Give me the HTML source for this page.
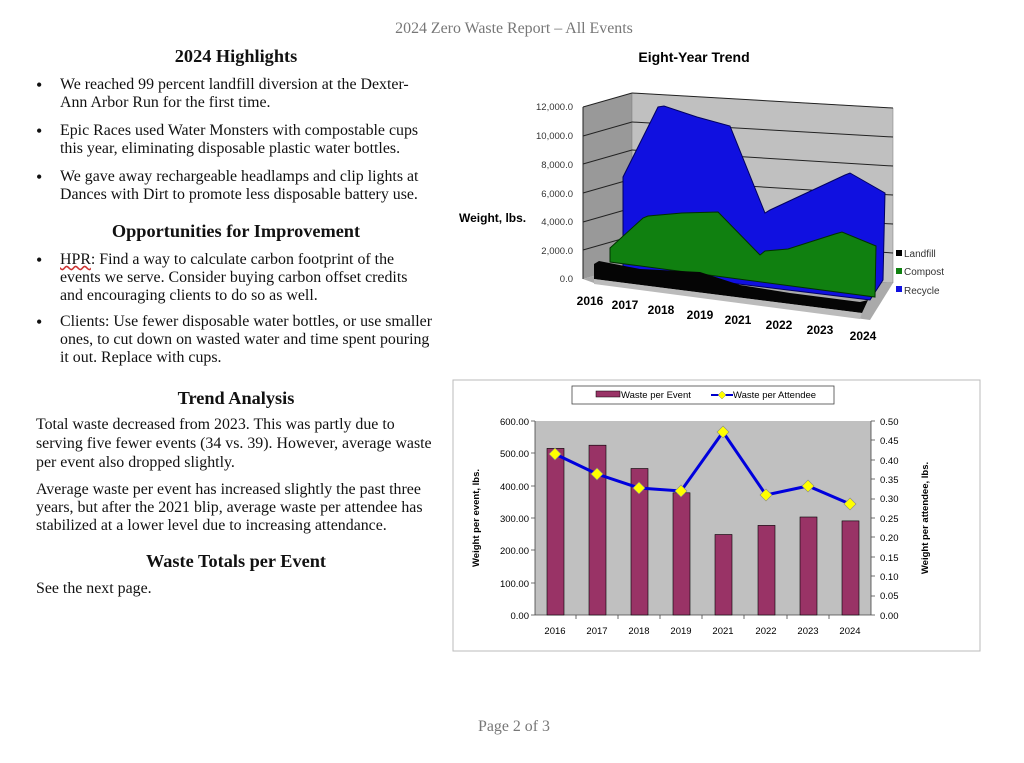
<!DOCTYPE html>
<html><head><meta charset="utf-8"><style>
body{margin:0;width:1024px;height:763px;background:#fff;position:relative;overflow:hidden;font-family:"Liberation Serif",serif;color:#111}
.l{position:absolute;white-space:nowrap;font-size:15.9px;line-height:18px}
.h{position:absolute;font-weight:bold;font-size:18.3px;width:400px;text-align:center;left:36px;line-height:20px}
.b{position:absolute;left:36px;font-size:18px;line-height:18px}
</style></head><body>
<div class="l" style="left:0;width:1028px;text-align:center;top:20px;color:#777">2024 Zero Waste Report – All Events</div>
<div class="h" style="top:46px">2024 Highlights</div>
<div class="b" style="top:76px">•</div><div class="l" style="left:60px;top:76px">We reached 99 percent landfill diversion at the Dexter-</div>
<div class="l" style="left:60px;top:94px">Ann Arbor Run for the first time.</div>
<div class="b" style="top:122px">•</div><div class="l" style="left:60px;top:122px">Epic Races used Water Monsters with compostable cups</div>
<div class="l" style="left:60px;top:140px">this year, eliminating disposable plastic water bottles.</div>
<div class="b" style="top:168px">•</div><div class="l" style="left:60px;top:168px">We gave away rechargeable headlamps and clip lights at</div>
<div class="l" style="left:60px;top:186px">Dances with Dirt to promote less disposable battery use.</div>
<div class="h" style="top:221px">Opportunities for Improvement</div>
<div class="b" style="top:251px">•</div><div class="l" style="left:60px;top:251px"><u style="text-decoration-style:wavy;text-decoration-color:#c33">HPR</u>: Find a way to calculate carbon footprint of the</div>
<div class="l" style="left:60px;top:269px">events we serve. Consider buying carbon offset credits</div>
<div class="l" style="left:60px;top:287px">and encouraging clients to do so as well.</div>
<div class="b" style="top:313px">•</div><div class="l" style="left:60px;top:313px">Clients: Use fewer disposable water bottles, or use smaller</div>
<div class="l" style="left:60px;top:331px">ones, to cut down on wasted water and time spent pouring</div>
<div class="l" style="left:60px;top:349px">it out. Replace with cups.</div>
<div class="h" style="top:388px">Trend Analysis</div>
<div class="l" style="left:36px;top:416px">Total waste decreased from 2023. This was partly due to</div>
<div class="l" style="left:36px;top:435px">serving five fewer events (34 vs. 39). However, average waste</div>
<div class="l" style="left:36px;top:454px">per event also dropped slightly.</div>
<div class="l" style="left:36px;top:481px">Average waste per event has increased slightly the past three</div>
<div class="l" style="left:36px;top:499px">years, but after the 2021 blip, average waste per attendee has</div>
<div class="l" style="left:36px;top:517px">stabilized at a lower level due to increasing attendance.</div>
<div class="h" style="top:551px">Waste Totals per Event</div>
<div class="l" style="left:36px;top:580px">See the next page.</div>
<div class="l" style="left:0;width:1028px;text-align:center;top:718px;color:#777">Page 2 of 3</div>

<svg width="1024" height="763" style="position:absolute;left:0;top:0" font-family="Liberation Sans, sans-serif">
<text x="694" y="62" font-size="14" font-weight="bold" text-anchor="middle">Eight-Year Trend</text>
<polygon points="583,107 632,93 632,265 583,279" fill="#999"/>
<polygon points="632,93 893,108 893,283 632,265" fill="#c0c0c0" stroke="#777" stroke-width="0.5"/>
<polygon points="583,279 632,265 893,283 870,320 594,283" fill="#aaa"/>
<g stroke="#222" stroke-width="1">
<line x1="583" y1="107" x2="632" y2="93"/><line x1="632" y1="93" x2="893" y2="108"/>
<line x1="583" y1="136" x2="632" y2="122"/><line x1="632" y1="122" x2="893" y2="137"/>
<line x1="583" y1="164" x2="632" y2="150"/><line x1="632" y1="150" x2="893" y2="166"/>
<line x1="583" y1="193" x2="632" y2="179"/><line x1="632" y1="179" x2="893" y2="195"/>
<line x1="583" y1="222" x2="632" y2="208"/><line x1="632" y1="208" x2="893" y2="224"/>
<line x1="583" y1="250" x2="632" y2="236"/><line x1="632" y1="236" x2="893" y2="253"/>
<line x1="583" y1="107" x2="583" y2="279"/>
</g>
<polygon points="623,177 658,107 664,106 697,117 730,126 765,213 770,210 845,175 850,173 885,193 883,280 870,300 623,270" fill="#1010e0" stroke="#000060" stroke-width="1"/>
<polygon points="610,248 643,218 648,216 682,213 718,212 720,214 760,255 765,251 788,249 835,234 842,232 876,246 875,297 610,262" fill="#108010" stroke="#003000" stroke-width="1"/>
<polygon points="594,264 599,261 640,269 700,272 740,285 790,293 860,302 868,300 862,313 594,279" fill="#050505"/>
<polygon points="594,279 862,313 860,319 594,284" fill="#bbb"/>
<g font-size="9.5" fill="#333" text-anchor="end">
<text x="573" y="110">12,000.0</text><text x="573" y="139">10,000.0</text><text x="573" y="168">8,000.0</text>
<text x="573" y="197">6,000.0</text><text x="573" y="225">4,000.0</text><text x="573" y="254">2,000.0</text><text x="573" y="282">0.0</text>
</g>
<text x="459" y="222" font-size="12" font-weight="bold">Weight, lbs.</text>
<g font-size="12" font-weight="bold" text-anchor="middle">
<text x="590" y="305">2016</text><text x="625" y="309">2017</text><text x="661" y="314">2018</text><text x="700" y="319">2019</text>
<text x="738" y="324">2021</text><text x="779" y="329">2022</text><text x="820" y="334">2023</text><text x="863" y="340">2024</text>
</g>
<g font-size="10" fill="#333">
<rect x="896" y="250" width="6" height="6" fill="#000"/><text x="904" y="257">Landfill</text>
<rect x="896" y="268" width="6" height="6" fill="#108010"/><text x="904" y="275">Compost</text>
<rect x="896" y="286" width="6" height="6" fill="#1010e0"/><text x="904" y="294">Recycle</text>
</g>
<rect x="453" y="380" width="527" height="271" fill="#fff" stroke="#bbb"/>
<rect x="572" y="386" width="262" height="18" fill="#fff" stroke="#444" stroke-width="0.8"/>
<rect x="596" y="391" width="24" height="6" fill="#993366" stroke="#000" stroke-width="0.5"/>
<text x="621" y="398" font-size="9.5">Waste per Event</text>
<line x1="711" y1="395" x2="733" y2="395" stroke="#00c" stroke-width="2"/>
<polygon points="722,391 726,395 722,399 718,395" fill="#ff0" stroke="#888" stroke-width="0.5"/>
<text x="733" y="398" font-size="9.5">Waste per Attendee</text>
<rect x="535" y="421" width="336" height="194" fill="#c0c0c0"/>
<g stroke="#444" stroke-width="0.8">
<line x1="535" y1="421" x2="535" y2="615"/><line x1="871" y1="421" x2="871" y2="615"/><line x1="535" y1="615" x2="871" y2="615"/>
<path d="M531 421h4M531 453h4M531 486h4M531 518h4M531 550h4M531 583h4M531 615h4"/>
<path d="M871 421h4M871 440h4M871 460h4M871 479h4M871 499h4M871 518h4M871 537h4M871 557h4M871 576h4M871 596h4M871 615h4"/>
<path d="M576 615v4M618 615v4M660 615v4M702 615v4M744 615v4M787 615v4M829 615v4"/>
</g>
<g fill="#993366" stroke="#000" stroke-width="0.6">
<rect x="547" y="448.4" width="17" height="166.6"/>
<rect x="589" y="445.2" width="17" height="169.8"/>
<rect x="631" y="468.5" width="17" height="146.5"/>
<rect x="673" y="492.8" width="17" height="122.2"/>
<rect x="715" y="534.5" width="17" height="80.5"/>
<rect x="758" y="525.4" width="17" height="89.6"/>
<rect x="800" y="517" width="17" height="98"/>
<rect x="842" y="520.9" width="17" height="94.1"/>
</g>
<polyline points="555,454 597,474 639,488 681,491 723,432 766,495 808,486 850,504" fill="none" stroke="#0000dd" stroke-width="3"/>
<g fill="#ffff00" stroke="#888" stroke-width="0.6">
<polygon points="555,448 561,454 555,460 549,454"/><polygon points="597,468 603,474 597,480 591,474"/>
<polygon points="639,482 645,488 639,494 633,488"/><polygon points="681,485 687,491 681,497 675,491"/>
<polygon points="723,426 729,432 723,438 717,432"/><polygon points="766,489 772,495 766,501 760,495"/>
<polygon points="808,480 814,486 808,492 802,486"/><polygon points="850,498 856,504 850,510 844,504"/>
</g>
<g font-size="9.5" text-anchor="end">
<text x="529" y="425">600.00</text><text x="529" y="457">500.00</text><text x="529" y="490">400.00</text>
<text x="529" y="522">300.00</text><text x="529" y="554">200.00</text><text x="529" y="587">100.00</text><text x="529" y="619">0.00</text>
</g>
<g font-size="9.5">
<text x="880" y="425">0.50</text><text x="880" y="444">0.45</text><text x="880" y="464">0.40</text><text x="880" y="483">0.35</text>
<text x="880" y="502">0.30</text><text x="880" y="522">0.25</text><text x="880" y="541">0.20</text><text x="880" y="561">0.15</text>
<text x="880" y="580">0.10</text><text x="880" y="599">0.05</text><text x="880" y="619">0.00</text>
</g>
<g font-size="9.5" text-anchor="middle">
<text x="555" y="634">2016</text><text x="597" y="634">2017</text><text x="639" y="634">2018</text><text x="681" y="634">2019</text>
<text x="723" y="634">2021</text><text x="766" y="634">2022</text><text x="808" y="634">2023</text><text x="850" y="634">2024</text>
</g>
<text transform="translate(479,518) rotate(-90)" font-size="9.5" font-weight="bold" text-anchor="middle">Weight per event, lbs.</text>
<text transform="translate(928,518) rotate(-90)" font-size="9.5" font-weight="bold" text-anchor="middle">Weight per attendee, lbs.</text>
</svg>
</body></html>
